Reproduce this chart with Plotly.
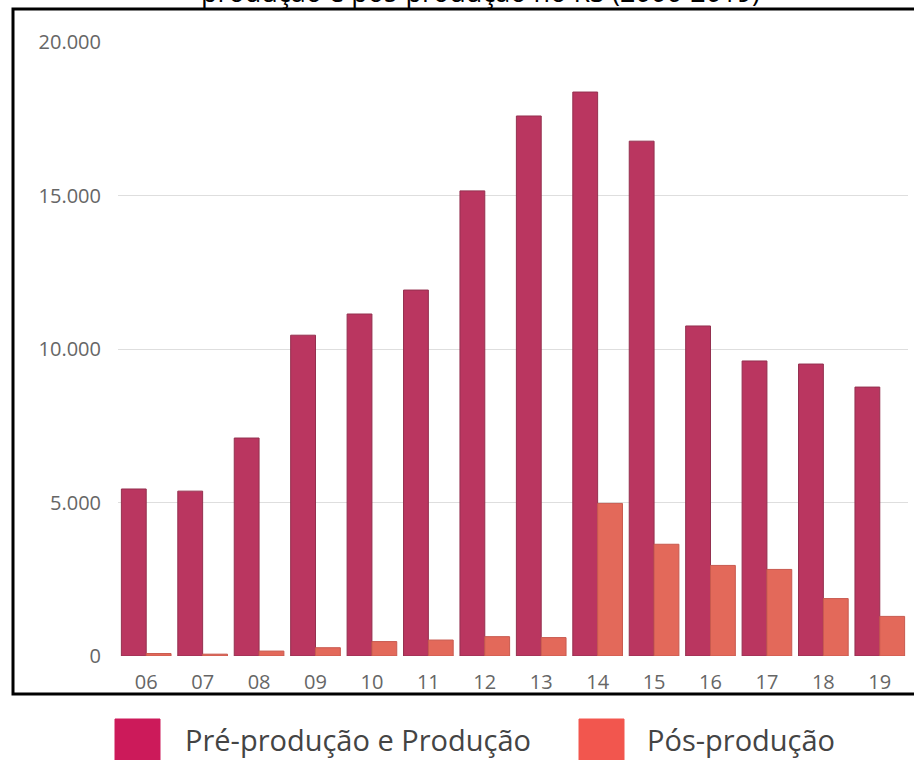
import plotly.graph_objects as go

anos = ["06", "07", "08", "09", "10", "11", "12", "13", "14", "15", "16", "17", "18", "19"]
pre_producao = [5440, 5370, 7100, 10450, 11140, 11920, 15150, 17590, 18370, 16770, 10750, 9610, 9510, 8760]
pos_producao = [80, 60, 160, 270, 470, 520, 630, 600, 4970, 3640, 2950, 2820, 1870, 1290]
y_ticks = [0, 5000, 10000, 15000, 20000]
y_labels = ["0", "5.000", "10.000", "15.000", "20.000"]

titulo = "produção e pós-produção no RS (2006-2019)"
nome_pre = "Pré-produção e Produção"
nome_pos = "Pós-produção"

W, H = 914, 760
L, R, T, B = 118, 6, 42, 104
pw, ph = W - L - R, H - T - B


# pixel -> paper
def px(x):
    return (x - L) / pw


def py(y):
    return (H - B - y) / ph


fig = go.Figure()
fig.add_trace(go.Bar(x=anos, y=pre_producao, name=nome_pre, showlegend=False,
                     marker_color='#ba3660', marker_line=dict(color='#94304f', width=1)))
fig.add_trace(go.Bar(x=anos, y=pos_producao, name=nome_pos, showlegend=False,
                     marker_color='#e3695a', marker_line=dict(color='#c85a4f', width=1)))

# black frame around the plot (right side is cut off in the screenshot)
fig.add_shape(type='rect', xref='paper', yref='paper',
              x0=px(13), x1=px(925), y0=py(694), y1=py(9),
              line=dict(color='black', width=3), fillcolor='rgba(0,0,0,0)', layer='above')

# legend drawn by hand: big squares + text
fig.add_shape(type='rect', xref='paper', yref='paper', x0=px(115), x1=px(160), y0=py(765), y1=py(719),
              line=dict(color='#cc1a5a', width=1), fillcolor='#cc1a5a')
fig.add_shape(type='rect', xref='paper', yref='paper', x0=px(579), x1=px(624), y0=py(765), y1=py(719),
              line=dict(color='#f2564e', width=1), fillcolor='#f2564e')
fig.add_annotation(x=px(183), y=py(739), xref='paper', yref='paper', text=nome_pre, showarrow=False,
                   xanchor='left', yanchor='middle', font=dict(family='Open Sans', size=29, color='#444'))
fig.add_annotation(x=px(645), y=py(739), xref='paper', yref='paper', text=nome_pos, showarrow=False,
                   xanchor='left', yanchor='middle', font=dict(family='Open Sans', size=29, color='#444'))

# title, mostly cut off at the top of the screenshot
fig.add_annotation(x=px(480), y=py(12), xref='paper', yref='paper', text=titulo, showarrow=False,
                   xanchor='center', yanchor='bottom', font=dict(family='Open Sans', size=27, color='black'))

fig.update_layout(
    width=W, height=H,
    margin=dict(l=L, r=R, t=T, b=B, autoexpand=False),
    plot_bgcolor='white', paper_bgcolor='white',
    barmode='group', bargap=0.12, bargroupgap=0,
    xaxis=dict(type='category', showgrid=False, showline=False, ticks='', ticklabelstandoff=12,
               tickfont=dict(family='Open Sans', size=20, color='#666')),
    yaxis=dict(range=[0, 20000], tickvals=y_ticks, ticktext=y_labels, showgrid=True,
               gridcolor='#dedede', gridwidth=1, zeroline=False, showline=False, ticks='',
               ticklabelstandoff=16, tickfont=dict(family='Open Sans', size=20, color='#666')),
)

# drop the default page margin so the figure fills the window
fig.write_html("out.html", config={'displayModeBar': False},
               post_script="document.body.style.margin='0';")
